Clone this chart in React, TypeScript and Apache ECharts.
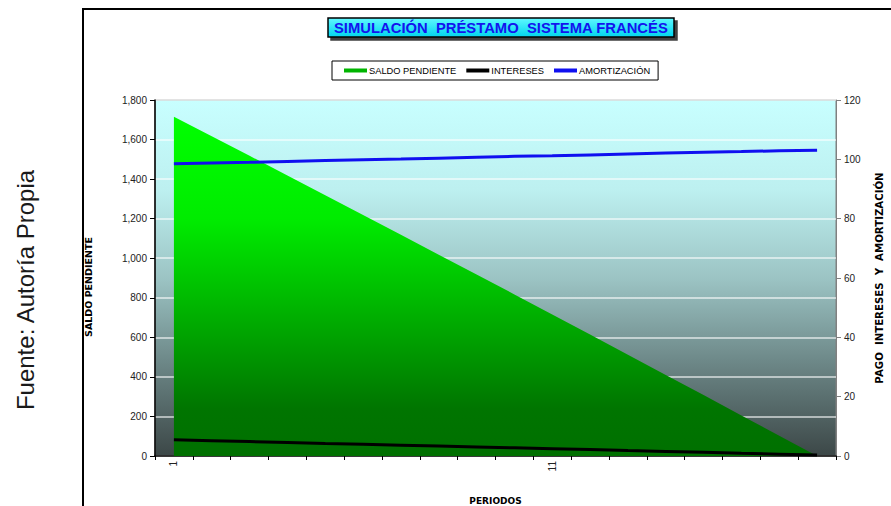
import { useEffect, useRef } from 'react';
import * as echarts from 'echarts';

// Periods of the loan schedule
const periods = ['1', '2', '3', '4', '5', '6', '7', '8', '9', '10', '11', '12', '13', '14', '15', '16', '17', '18'];

// Outstanding balance after each payment (left axis)
const saldoPendiente = [1715, 1617, 1518, 1418, 1319, 1219, 1119, 1018, 918, 817, 716, 614, 512, 410, 308, 205, 103, 0];

// Interest paid each period (right axis)
const intereses = [5.44, 5.15, 4.85, 4.55, 4.25, 3.96, 3.66, 3.36, 3.05, 2.75, 2.45, 2.15, 1.84, 1.54, 1.23, 0.92, 0.62, 0.31];

// Principal repaid each period (right axis)
const amortizacion = [98.5, 98.8, 99.0, 99.3, 99.6, 99.9, 100.1, 100.4, 100.7, 101.0, 101.2, 101.5, 101.8, 102.1, 102.4, 102.6, 102.9, 103.1];

const FONT = '"Liberation Sans", Arial, sans-serif';
const HEAVY = '"DejaVu Sans", "Liberation Sans", sans-serif';

export default function App() {
  const ref = useRef<HTMLDivElement>(null);

  useEffect(() => {
    document.body.style.margin = '0';
    if (!ref.current) return;
    const chart = echarts.init(ref.current, undefined, { renderer: 'svg' });

    chart.setOption({
      animation: false,
      backgroundColor: '#ffffff',
      title: {
        text: 'SIMULACIÓN  PRÉSTAMO  SISTEMA FRANCÉS',
        left: 328,
        top: 18,
        padding: [2, 6],
        backgroundColor: new echarts.graphic.LinearGradient(0, 0, 0, 1, [
          { offset: 0, color: '#5ff8ff' },
          { offset: 1, color: '#00d4ee' },
        ]),
        borderColor: '#000000',
        borderWidth: 1.5,
        shadowColor: 'rgba(0,0,0,0.75)',
        shadowBlur: 1,
        shadowOffsetX: 3,
        shadowOffsetY: 3,
        textStyle: {
          fontFamily: FONT,
          fontSize: 14.8,
          fontWeight: 'bold',
          color: '#1414ee',
        },
      },
      legend: {
        left: 332,
        top: 61,
        padding: [5, 8, 5, 12],
        backgroundColor: '#ffffff',
        borderColor: '#000000',
        borderWidth: 1,
        borderRadius: 0,
        icon: 'rect',
        itemWidth: 23,
        itemHeight: 4,
        itemGap: 10,
        textStyle: { fontFamily: FONT, fontSize: 9.3, color: '#000000', padding: [0, 0, 0, -3] },
        data: ['SALDO PENDIENTE', 'INTERESES', 'AMORTIZACIÓN'],
      },
      grid: {
        left: 155,
        right: 55,
        top: 100,
        bottom: 50,
        outerBoundsMode: 'none',
        show: true,
        borderColor: '#808080',
        borderWidth: 1,
        backgroundColor: new echarts.graphic.LinearGradient(0, 0, 0, 1, [
          { offset: 0, color: '#c8ffff' },
          { offset: 0.25, color: '#bdf0f0' },
          { offset: 0.5, color: '#9cc4c4' },
          { offset: 0.75, color: '#6a8484' },
          { offset: 1, color: '#3c4747' },
        ]),
      },
      xAxis: {
        type: 'category',
        data: periods,
        boundaryGap: true,
        name: 'PERIODOS',
        nameLocation: 'middle',
        nameGap: 40,
        nameTextStyle: { fontFamily: HEAVY, fontSize: 9, fontWeight: 'bold', color: '#000000' },
        axisLine: { lineStyle: { color: '#000000', width: 1.5 } },
        axisTick: { show: true, interval: 0, length: 4, lineStyle: { color: '#000000' } },
        axisLabel: {
          interval: 9,
          rotate: 90,
          margin: 5,
          fontFamily: FONT,
          fontSize: 10,
          color: '#222222',
        },
        splitLine: { show: false },
      },
      yAxis: [
        {
          type: 'value',
          min: 0,
          max: 1800,
          interval: 200,
          position: 'left',
          name: 'SALDO PENDIENTE',
          nameLocation: 'middle',
          nameRotate: 90,
          nameGap: 62,
          nameTextStyle: {
            fontFamily: HEAVY,
            fontSize: 9.5,
            fontWeight: 'bold',
            color: '#000000',
            padding: [0, 18, 0, 0],
          },
          axisLine: { show: true, lineStyle: { color: '#000000', width: 1.5 } },
          axisTick: { show: true, length: 5, lineStyle: { color: '#000000' } },
          axisLabel: {
            margin: 8,
            fontFamily: FONT,
            fontSize: 10,
            color: '#222222',
            formatter: (v: number) => v.toLocaleString('en-US'),
          },
          splitLine: { show: true, lineStyle: { color: 'rgba(255,255,255,0.75)', width: 1.5 } },
        },
        {
          type: 'value',
          min: 0,
          max: 120,
          interval: 20,
          position: 'right',
          name: 'PAGO  INTERESES  Y  AMORTIZACIÓN',
          nameLocation: 'middle',
          nameRotate: 90,
          nameGap: 38,
          nameTextStyle: { fontFamily: HEAVY, fontSize: 10.2, fontWeight: 'bold', color: '#000000' },
          axisLine: { show: true, lineStyle: { color: '#808080', width: 1 } },
          axisTick: { show: true, length: 5, lineStyle: { color: '#808080' } },
          axisLabel: { margin: 8, fontFamily: FONT, fontSize: 10, color: '#222222' },
          splitLine: { show: false },
        },
      ],
      series: [
        {
          name: 'SALDO PENDIENTE',
          type: 'line',
          yAxisIndex: 0,
          data: saldoPendiente,
          symbol: 'none',
          color: '#00b400',
          lineStyle: { width: 0 },
          areaStyle: {
            opacity: 1,
            color: new echarts.graphic.LinearGradient(0, 0, 0, 1, [
              { offset: 0, color: '#00ff00' },
              { offset: 0.3, color: '#00ec00' },
              { offset: 0.86, color: '#007500' },
              { offset: 1, color: '#007000' },
            ]),
          },
          z: 1,
        },
        {
          name: 'INTERESES',
          type: 'line',
          yAxisIndex: 1,
          data: intereses,
          symbol: 'none',
          color: '#000000',
          lineStyle: { color: '#000000', width: 3 },
          z: 3,
        },
        {
          name: 'AMORTIZACIÓN',
          type: 'line',
          yAxisIndex: 1,
          data: amortizacion,
          symbol: 'none',
          color: '#1010f0',
          lineStyle: { color: '#1010f0', width: 3 },
          z: 3,
        },
      ],
      graphic: [
        {
          type: 'rect',
          silent: true,
          shape: { x: 83, y: 9, width: 900, height: 600 },
          style: { fill: 'none', stroke: '#000000', lineWidth: 2 },
        },
        {
          type: 'text',
          silent: true,
          x: 25,
          y: 290,
          rotation: Math.PI / 2,
          style: {
            text: 'Fuente: Autoría Propia',
            fontFamily: FONT,
            fontSize: 24,
            fill: '#1a1a1a',
            align: 'center',
            verticalAlign: 'middle',
          },
        },
      ],
    });

    return () => chart.dispose();
  }, []);

  return <div ref={ref} style={{ width: 891, height: 506 }} />;
}
